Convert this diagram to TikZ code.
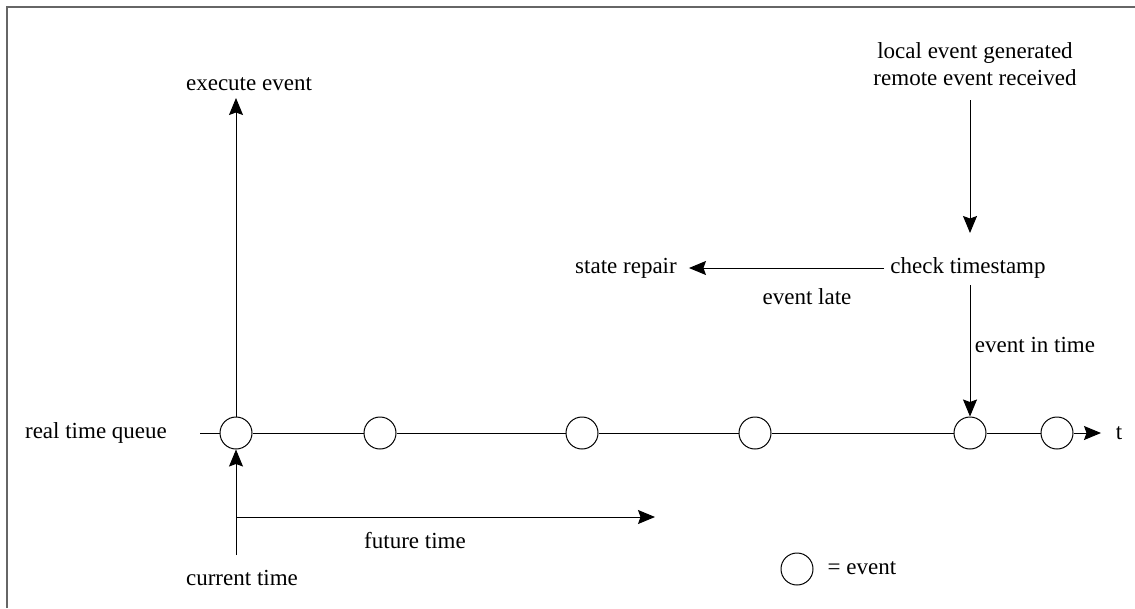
\documentclass[tikz,border=0pt]{standalone}
\usepackage{fontspec}
\setmainfont{Liberation Serif}
\usetikzlibrary{arrows.meta}
\begin{document}
\begin{tikzpicture}[x=1pt,y=-1pt,
  lbl/.style={font=\fontsize{23}{27}\selectfont, inner sep=0pt},
  ev/.style={circle, draw, line width=1pt, minimum size=32pt, inner sep=0pt, fill=white},
  ln/.style={line width=1pt},
  arr/.style={line width=1pt, -{Stealth[length=17pt,width=14pt,inset=2.5pt]}}]
\useasboundingbox (0,0) rectangle (1135,608);
\draw[line width=1.5pt, gray!80!black] (7,608) -- (7,7) -- (1135,7);
% timeline
\coordinate (q0) at (200,433);
\node[ev] (e1) at (236,433) {};
\node[ev] (e2) at (380,433) {};
\node[ev] (e3) at (582,433) {};
\node[ev] (e4) at (755,433) {};
\node[ev] (e5) at (970,433) {};
\node[ev] (e6) at (1057,433) {};
\coordinate (tend) at (1101,433);
\draw[ln] (q0) -- (e1) -- (e2) -- (e3) -- (e4) -- (e5) -- (e6);
\draw[arr] (e6) -- (tend);
\node[lbl] (t) at (1119,433) {t};
\node[lbl] (rtq) at (96,433) {real time queue};
% execute
\node[lbl] (exe) at (249,84) {execute event};
\draw[arr] (e1) -- (236,98);
% current time
\node[lbl] (cur) at (242,578) {current time};
\coordinate (c0) at (236,555);
\draw[arr] (c0) -- (e1);
\coordinate (f0) at (236,517);
\coordinate (f1) at (655,517);
\draw[arr] (f0) -- (f1);
\node[lbl] (fut) at (415,541) {future time};
% top right
\node[lbl, align=center] (src) at (975,64) {local event generated\\remote event received};
\node[lbl] (chk) at (968,268) {check timestamp};
\coordinate (a0) at (970,100);
\coordinate (a1) at (970,233);
\draw[arr] (a0) -- (a1);
\node[lbl] (rep) at (626,268) {state repair};
\draw[arr, shorten <=6pt, shorten >=12pt] (chk.west) -- (rep.east);
\node[lbl] (late) at (807,297) {event late};
\coordinate (b0) at (970,285);
\draw[arr] (b0) -- (e5);
\node[lbl] (intime) at (1035,345) {event in time};
% legend
\node[ev] (leg) at (797,569) {};
\node[lbl] (legt) at (862,568) {= event};
\end{tikzpicture}
\end{document}
